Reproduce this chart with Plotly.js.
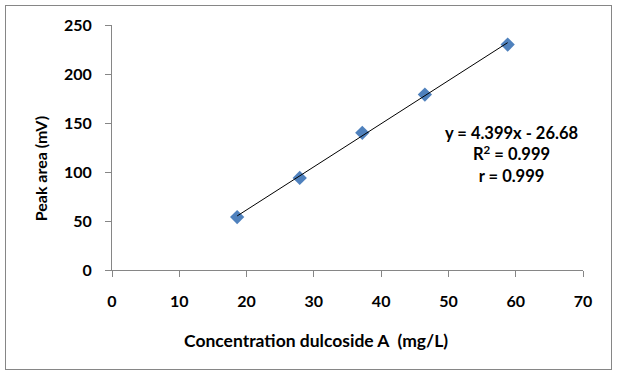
<!DOCTYPE html>
<html><head><meta charset="utf-8">
<script src="https://cdn.plot.ly/plotly-3.0.1.min.js"></script>
<style>
html,body{margin:0;padding:0;background:#fff;}
#wrap{position:relative;width:617px;height:375px;}
#chart{width:617px;height:375px;}
#frame{position:absolute;left:5px;top:5px;width:607px;height:365px;border:1.5px solid #868686;pointer-events:none;box-sizing:border-box;}
</style></head>
<body>
<div id="wrap"><div id="chart"></div><div id="frame"></div></div>
<script>
// Data
const concentration = [18.6, 27.9, 37.2, 46.5, 58.8];   // mg/L
const peakArea      = [54, 94, 140, 179, 230];          // mV
// Linear trendline as reported in the chart
const slope = 4.399;
const intercept = -26.68;
const trendX = [concentration[0], concentration[concentration.length-1]];
const trendY = trendX.map(x => slope * x + intercept);

const xTicks = [0, 10, 20, 30, 40, 50, 60, 70];
const yTicks = [0, 50, 100, 150, 200, 250];

const eqText = "y = 4.399x - 26.68<br>R<sup>2</sup> = 0.999<br>r = 0.999";
const xTitle = "Concentration dulcoside A\u00a0 (mg/L)";
const yTitle = "Peak area (mV)";

const font = "Lato, 'Open Sans', sans-serif";
const axisCol = "#868686";

const traces = [
  {x: concentration, y: peakArea, mode: "markers", type: "scatter",
   marker: {symbol: "diamond", size: 11, color: "#4F81BD"}, hoverinfo: "none"},
  {x: trendX, y: trendY, mode: "lines", type: "scatter",
   line: {color: "#000", width: 1}, hoverinfo: "none"}
];

const layout = {
  width: 617, height: 375,
  margin: {l: 111.7, r: 33.7, t: 25.3, b: 105},
  paper_bgcolor: "#fff", plot_bgcolor: "#fff",
  showlegend: false,
  font: {family: font, color: "#000", size: 16, weight: "bold"},
  xaxis: {range: [0, 70], tickvals: xTicks, ticktext: xTicks.map(String),
    showgrid: false, zeroline: false, showline: true, linecolor: axisCol, linewidth: 1,
    ticks: "outside", ticklen: 6, tickcolor: axisCol, tickwidth: 1,
    ticklabelstandoff: 11,
    tickfont: {family: font, size: 16, color: "#000", weight: "bold"}},
  yaxis: {range: [0, 250], tickvals: yTicks, ticktext: yTicks.map(String),
    showgrid: false, zeroline: false, showline: true, linecolor: axisCol, linewidth: 1,
    ticks: "outside", ticklen: 6, tickcolor: axisCol, tickwidth: 1,
    ticklabelstandoff: 10,
    tickfont: {family: font, size: 16, color: "#000", weight: "bold"}},
  annotations: [
    {text: eqText, xref: "x", yref: "y", x: 59.35, y: 118.1, showarrow: false,
     align: "center", xanchor: "center", yanchor: "middle",
     font: {family: font, size: 16.5, color: "#000", weight: "bold"}},
    {text: xTitle, xref: "paper", yref: "paper", x: 0.4326, y: -0.286, showarrow: false,
     xanchor: "center", yanchor: "middle",
     font: {family: font, size: 17.5, color: "#000", weight: "bold"}},
    {text: yTitle, xref: "paper", yref: "paper", x: -0.152, y: 0.4127, showarrow: false,
     xanchor: "center", yanchor: "middle", textangle: -90,
     font: {family: font, size: 16, color: "#000", weight: "bold"}}
  ]
};

Plotly.newPlot("chart", traces, layout, {displayModeBar: false, staticPlot: true});
</script>
</body></html>
